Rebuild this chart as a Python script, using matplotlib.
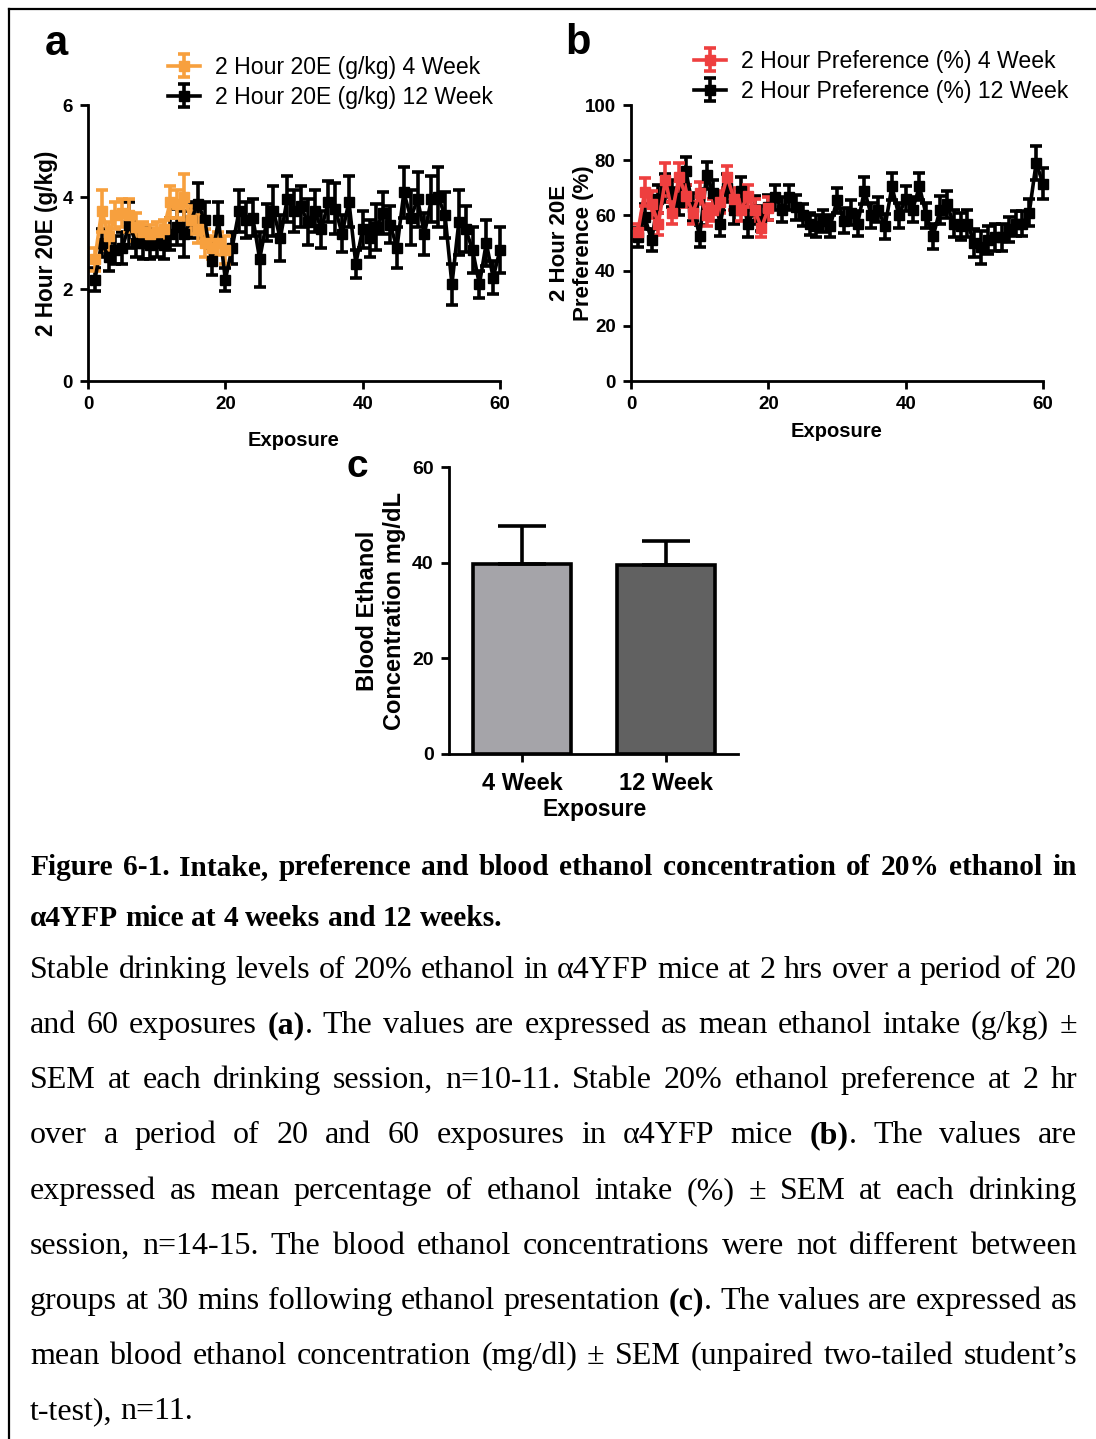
import numpy as np
import matplotlib
matplotlib.use('Agg')
import matplotlib.pyplot as plt
from matplotlib.lines import Line2D

# ---- data ----
exposure_12wk = list(range(1, 61))
exposure_4wk = list(range(1, 21))

intake_12wk = [2.2, 3.0, 2.7, 2.85, 2.9, 3.4, 3.0, 3.0, 2.95, 3.0,
               2.95, 3.2, 3.35, 3.2, 3.5, 3.85, 3.5, 2.6, 3.5, 2.2,
               2.9, 3.7, 3.5, 3.55, 2.65, 3.45, 3.7, 3.1, 3.95, 3.7,
               3.8, 3.45, 3.7, 3.3, 3.9, 3.75, 3.2, 3.9, 2.55, 3.3,
               3.1, 3.35, 3.65, 3.4, 2.9, 4.1, 3.55, 3.95, 3.2, 3.95,
               4.0, 3.6, 2.1, 3.45, 3.3, 2.85, 2.1, 3.0, 2.25, 2.85]
intake_12wk_sem = [0.25, 0.3, 0.3, 0.3, 0.35, 0.5, 0.3, 0.35, 0.3, 0.3,
                   0.3, 0.35, 0.4, 0.5, 0.4, 0.45, 0.4, 0.3, 0.4, 0.25,
                   0.35, 0.45, 0.4, 0.4, 0.6, 0.4, 0.55, 0.5, 0.5, 0.45,
                   0.45, 0.5, 0.45, 0.4, 0.45, 0.55, 0.4, 0.55, 0.3, 0.4,
                   0.4, 0.5, 0.45, 0.4, 0.45, 0.55, 0.6, 0.6, 0.45, 0.5,
                   0.65, 0.5, 0.45, 0.7, 0.5, 0.5, 0.3, 0.5, 0.35, 0.5]
intake_4wk = [2.65, 3.7, 3.15, 3.6, 3.65, 3.6, 3.35, 3.25, 3.2, 3.25,
              3.3, 3.9, 3.85, 4.0, 3.5, 3.3, 3.0, 2.9, 3.0, 2.85]
intake_4wk_sem = [0.25, 0.45, 0.3, 0.3, 0.3, 0.35, 0.3, 0.2, 0.2, 0.2,
                  0.2, 0.35, 0.3, 0.5, 0.3, 0.3, 0.3, 0.25, 0.25, 0.3]

pref_12wk = [52, 59.5, 51, 66, 70, 68, 65, 76, 63, 52.5,
             74.5, 68, 57, 70, 62, 69, 57, 62, 59, 63,
             66.5, 62, 66.5, 63, 60, 57, 56, 58, 56, 65.5,
             58, 61, 57, 69, 60, 62, 56, 70.5, 60, 66,
             62, 70.5, 60, 52.5, 62, 64, 57, 56, 57, 50,
             48.5, 51, 52, 52, 55, 57, 57, 61, 79, 71.5]
pref_12wk_sem = [3.5, 4.5, 4, 5, 5, 5, 5, 5, 5, 4,
                 5, 5, 4.5, 5, 5, 5, 5, 5, 4.5, 4.5,
                 4.5, 4.5, 4.5, 4.5, 4, 4, 4, 4, 4, 4.5,
                 4.5, 4.5, 4.5, 5, 4.5, 4.5, 4.5, 5, 4.5, 4.5,
                 4.5, 5, 4.5, 4.5, 5, 5, 5, 5, 5, 5,
                 6, 5, 5, 5, 4.5, 4.5, 4.5, 5, 6, 5.5]
pref_4wk = [54, 68.5, 64, 57, 73, 61, 74, 67, 61, 68,
            60, 62, 65, 74, 66, 62, 67, 62, 55.5, 62.5]
pref_4wk_sem = [3, 5, 5, 4, 6, 4, 5, 4, 4, 4,
                4, 4, 4, 4, 4, 4, 4, 4, 3.5, 4]

bec_groups = ['4 Week', '12 Week']
bec_mean = [39.8, 39.6]
bec_sem = [7.9, 4.9]

caption_title = [
    "Figure 6-1. Intake, preference and blood ethanol concentration of 20% ethanol in",
    "α4YFP mice at 4 weeks and 12 weeks.",
]
caption_body = [
    "Stable drinking levels of 20% ethanol in α4YFP mice at 2 hrs over a period of 20",
    "and 60 exposures **(a)**. The values are expressed as mean ethanol intake (g/kg) ±",
    "SEM at each drinking session, n=10-11. Stable 20% ethanol preference at 2 hr",
    "over a period of 20 and 60 exposures in α4YFP mice **(b)**. The values are",
    "expressed as mean percentage of ethanol intake (%) ± SEM at each drinking",
    "session, n=14-15. The blood ethanol concentrations were not different between",
    "groups at 30 mins following ethanol presentation **(c)**. The values are expressed as",
    "mean blood ethanol concentration (mg/dl) ± SEM (unpaired two-tailed student’s",
    "t-test), n=11.",
]

# ---- figure ----
W, H = 1096, 1439
plt.rcParams['font.family'] = ['Liberation Sans', 'DejaVu Sans']
fig = plt.figure(figsize=(W / 100, H / 100), dpi=100)
fig.patch.set_facecolor('white')

orange = '#F7A03E'
red = '#EE3F3F'


def add_ax(l, t, r, b):
    return fig.add_axes([l / W, 1 - b / H, (r - l) / W, (b - t) / H])


def prism(ax, size):
    for s in ['top', 'right']:
        ax.spines[s].set_visible(False)
    for s in ['left', 'bottom']:
        ax.spines[s].set_linewidth(2)
    ax.tick_params(direction='out', length=6, width=2, labelsize=size, pad=5)
    for lab in ax.get_xticklabels() + ax.get_yticklabels():
        lab.set_fontweight('bold')


line_kw = dict(marker='s', ms=7.5, lw=2.6, elinewidth=2.6, capsize=4.5,
               capthick=2.6, clip_on=False)
leg_kw = dict(loc='upper left', frameon=False, handlelength=1.4,
              handletextpad=0.65, labelspacing=0.3, borderpad=0, borderaxespad=0)

# panel a
ax_a = add_ax(88, 105, 500, 381)
eb12 = ax_a.errorbar(exposure_12wk, intake_12wk, yerr=intake_12wk_sem,
                     color='black', **line_kw)
eb4 = ax_a.errorbar(exposure_4wk, intake_4wk, yerr=intake_4wk_sem,
                    color=orange, **line_kw)
ax_a.set_xlim(0, 60)
ax_a.set_ylim(0, 6)
ax_a.set_xticks([0, 20, 40, 60])
ax_a.set_yticks([0, 2, 4, 6])
prism(ax_a, 13.5)
ax_a.set_xlabel('Exposure', fontsize=14.5, fontweight='bold')
ax_a.set_ylabel('2 Hour 20E (g/kg)', fontsize=16.3, fontweight='bold')
ax_a.xaxis.set_label_coords(0.5, -0.18)
ax_a.yaxis.set_label_coords(-0.072, 0.5)
fig.legend([eb4, eb12], ['2 Hour 20E (g/kg) 4 Week', '2 Hour 20E (g/kg) 12 Week'],
           bbox_to_anchor=(168 / W, 1 - 56 / H), fontsize=16.6, **leg_kw)

# panel b
ax_b = add_ax(631, 105, 1043, 381)
pb12 = ax_b.errorbar(exposure_12wk, pref_12wk, yerr=pref_12wk_sem,
                     color='black', **line_kw)
pb4 = ax_b.errorbar(exposure_4wk, pref_4wk, yerr=pref_4wk_sem,
                    color=red, **line_kw)
ax_b.set_xlim(0, 60)
ax_b.set_ylim(0, 100)
ax_b.set_xticks([0, 20, 40, 60])
ax_b.set_yticks([0, 20, 40, 60, 80, 100])
prism(ax_b, 13.5)
ax_b.set_xlabel('Exposure', fontsize=14.5, fontweight='bold')
ax_b.set_ylabel('2 Hour 20E\nPreference (%)', fontsize=16, fontweight='bold')
ax_b.xaxis.set_label_coords(0.5, -0.15)
ax_b.yaxis.set_label_coords(-0.09, 0.5)
fig.legend([pb4, pb12], ['2 Hour Preference (%) 4 Week', '2 Hour Preference (%) 12 Week'],
           bbox_to_anchor=(694 / W, 1 - 50 / H), fontsize=16.6, **leg_kw)

# panel c
ax_c = add_ax(449, 467, 738, 754)
xpos = [0, 1]
ax_c.bar(xpos, bec_mean, width=0.68, color=['#A5A4A9', '#616161'],
         edgecolor='black', linewidth=2.6, zorder=2)
ax_c.errorbar(xpos, bec_mean, yerr=[[0, 0], bec_sem], fmt='none', ecolor='black',
              elinewidth=2.6, capsize=17, capthick=2.6, zorder=3)
ax_c.set_xlim(-0.51, 1.5)
ax_c.set_ylim(0, 60)
ax_c.set_xticks(xpos)
ax_c.set_xticklabels(bec_groups)
ax_c.set_yticks([0, 20, 40, 60])
prism(ax_c, 14)
for lab in ax_c.get_xticklabels():
    lab.set_fontsize(17)
ax_c.tick_params(axis='x', pad=7)
ax_c.set_xlabel('Exposure', fontsize=16.5, fontweight='bold')
ax_c.set_ylabel('Blood Ethanol\nConcentration mg/dL', fontsize=17, fontweight='bold')
ax_c.xaxis.set_label_coords(0.505, -0.155)
ax_c.yaxis.set_label_coords(-0.15, 0.5)

# panel letters
fig.text(56 / W, 1 - 55 / H, 'a', fontsize=30, fontweight='bold', ha='center', va='baseline')
fig.text(578 / W, 1 - 54 / H, 'b', fontsize=30, fontweight='bold', ha='center', va='baseline')
fig.text(357 / W, 1 - 477 / H, 'c', fontsize=28, fontweight='bold', ha='center', va='baseline')

# outer frame
fig.add_artist(Line2D([9 / W, 1], [1 - 9 / H, 1 - 9 / H], color='black', lw=1.6,
                      transform=fig.transFigure))
fig.add_artist(Line2D([9 / W, 9 / W], [1 - 9 / H, 0], color='black', lw=1.6,
                      transform=fig.transFigure))

# caption, justified like the thesis page
renderer = fig.canvas.get_renderer()
left_px, right_px = 30, 1077


def caption_line(text, y_px, justify, base_bold, size):
    words = []
    for w in text.split(' '):
        parts = w.split('**')
        segs = []
        for i, p in enumerate(parts):
            if p:
                bold = base_bold or (i % 2 == 1)
                t = fig.text(0, 1 - y_px / H, p, fontsize=size,
                             family=['Liberation Serif', 'DejaVu Serif'],
                             fontweight='bold' if bold else 'normal', va='baseline')
                segs.append([t, t.get_window_extent(renderer=renderer).width])
        words.append(segs)
    widths = [sum(s[1] for s in segs) for segs in words]
    if justify and len(words) > 1:
        gap = (right_px - left_px - sum(widths)) / (len(words) - 1)
    else:
        gap = 0.25 * size * 100 / 72
    x = left_px
    for segs, w in zip(words, widths):
        xx = x
        for t, sw in segs:
            t.set_x(xx / W)
            xx += sw
        x += w + gap


line_y = [875, 926, 978, 1033, 1088, 1143, 1199, 1254, 1309, 1364, 1419]
for i, line in enumerate(caption_title):
    caption_line(line, line_y[i], i < len(caption_title) - 1, True, 21.2)
for i, line in enumerate(caption_body):
    caption_line(line, line_y[i + 2], i < len(caption_body) - 1, False, 23.0)

fig.savefig('out.png', dpi=100)
